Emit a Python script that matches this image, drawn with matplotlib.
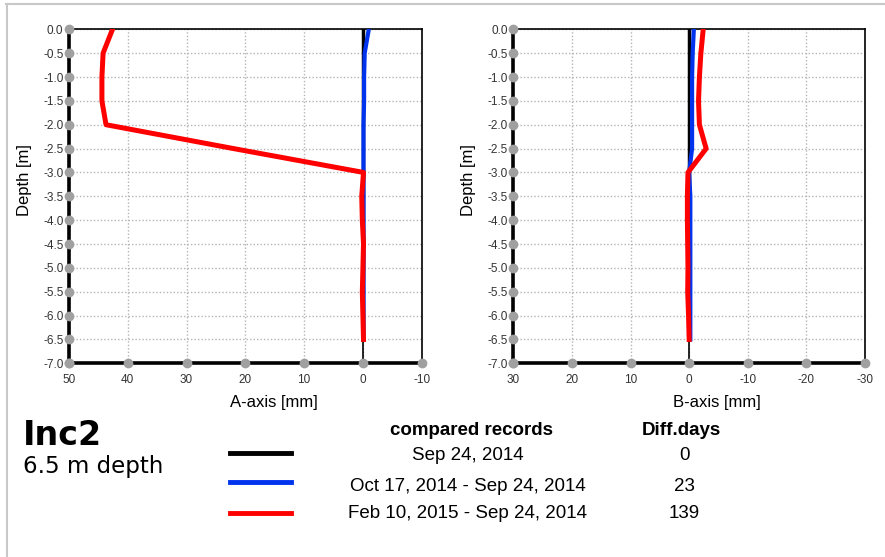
import matplotlib
matplotlib.use("Agg")
import matplotlib.pyplot as plt
from matplotlib.lines import Line2D

plt.rcParams['font.family'] = ['Liberation Sans', 'DejaVu Sans']
plt.rcParams['axes.unicode_minus'] = False

# Depth stations [m]
depth = [0.0, -0.5, -1.0, -1.5, -2.0, -2.5, -3.0, -3.5, -4.0, -4.5, -5.0, -5.5, -6.0, -6.5]

# A-axis displacement [mm]
a_base = [0.0] * 14
a_oct = [-1.0, -0.3, -0.2, -0.2, -0.1, -0.1, -0.1, -0.1, -0.1, -0.1, -0.1, -0.1, -0.1, -0.1]
a_feb = [42.6, 44.2, 44.4, 44.4, 43.7, 22.0, -0.1, 0.2, 0.1, -0.1, 0.0, 0.1, 0.0, -0.1]

# B-axis displacement [mm]
b_base = [0.0] * 14
b_oct = [-0.8, -0.6, -0.5, -0.5, -0.5, -0.5, 0.0, -0.2, -0.2, -0.2, -0.2, -0.2, -0.2, -0.2]
b_feb = [-2.4, -2.0, -1.75, -1.6, -1.75, -2.9, 0.2, 0.3, 0.3, 0.25, 0.2, 0.25, 0.1, 0.0]

y_ticks = [0.0, -0.5, -1.0, -1.5, -2.0, -2.5, -3.0, -3.5, -4.0, -4.5, -5.0, -5.5, -6.0, -6.5, -7.0]
a_ticks = [50, 40, 30, 20, 10, 0, -10]
b_ticks = [30, 20, 10, 0, -10, -20, -30]

records = ["Sep 24, 2014", "Oct 17, 2014 - Sep 24, 2014", "Feb 10, 2015 - Sep 24, 2014"]
diff_days = ["0", "23", "139"]
colors = ["#000000", "#0033ee", "#ff0000"]

fig = plt.figure(figsize=(8.85, 5.57), dpi=100)
W, H = 885, 557


def fx(px):
    return px / W


def fy(py):
    return 1 - py / H


# light frame on top and left edge
fig.add_artist(Line2D([fx(6), 1], [fy(4), fy(4)], color='#c8c8c8', lw=1.5))
fig.add_artist(Line2D([fx(6.5), fx(6.5)], [0, fy(4)], color='#c8c8c8', lw=1.5))


def setup_axes(rect, xticks, xlabel):
    ax = fig.add_axes(rect)
    ax.set_xlim(xticks[0], xticks[-1])
    ax.set_ylim(-7.0, 0.0)
    ax.set_xticks(xticks)
    ax.set_yticks(y_ticks)
    ax.set_yticklabels([f"{v:.1f}" if v != 0 else "0.0" for v in y_ticks])
    ax.grid(True, color='#b4b4b4', linestyle=(0, (1, 1.5)), linewidth=1.0)
    ax.tick_params(length=0, labelsize=8.5, colors='#333333')
    ax.tick_params(axis='x', pad=8)
    ax.tick_params(axis='y', pad=4)
    for s in ['left', 'bottom']:
        ax.spines[s].set_linewidth(2.6)
    for s in ['top', 'right']:
        ax.spines[s].set_linewidth(1.2)
    # gray dots at tick positions
    ax.plot([xticks[0]] * len(y_ticks), y_ticks, 'o', color='#a0a0a0', ms=6,
            clip_on=False, zorder=6)
    ax.plot(xticks, [-7.0] * len(xticks), 'o', color='#a0a0a0', ms=6,
            clip_on=False, zorder=6)
    ax.set_xlabel(xlabel, fontsize=12)
    ax.set_ylabel("Depth [m]", fontsize=12)
    ax.xaxis.set_label_coords(0.58, -0.095)
    ax.yaxis.set_label_coords(-0.105, 0.55)
    ax.axvline(0, color='black', lw=1.2, zorder=2)
    return ax


ax1 = setup_axes([fx(69), fy(363.3), 352.7 / W, 334 / H], a_ticks, "A-axis [mm]")
ax1.plot(a_base, depth, color=colors[0], lw=2.5, zorder=3)
ax1.plot(a_oct, depth, color=colors[1], lw=3.0, zorder=4, solid_capstyle='round')
ax1.plot(a_feb, depth, color=colors[2], lw=3.6, zorder=5)

ax2 = setup_axes([fx(513.3), fy(363.3), 351.7 / W, 334 / H], b_ticks, "B-axis [mm]")
ax2.plot(b_base, depth, color=colors[0], lw=2.5, zorder=3)
ax2.plot(b_oct, depth, color=colors[1], lw=3.0, zorder=4)
ax2.plot(b_feb, depth, color=colors[2], lw=3.6, zorder=5)

# caption block
fig.text(fx(23), fy(445), "Inc2", fontsize=24, fontweight='bold',
         family='DejaVu Sans', va='baseline', ha='left')
fig.text(fx(23), fy(473), "6.5 m depth", fontsize=16.5,
         family='DejaVu Sans', va='baseline', ha='left')

fig.text(fx(472), fy(435), "compared records", fontsize=13.5, fontweight='bold',
         ha='center', va='baseline')
fig.text(fx(681), fy(435), "Diff.days", fontsize=13.5, fontweight='bold',
         ha='center', va='baseline')

line_y = [453, 482, 513]
text_base = [460, 491, 518]
for rec, dd, c, ly, tb in zip(records, diff_days, colors, line_y, text_base):
    fig.add_artist(Line2D([fx(230), fx(291)], [fy(ly), fy(ly)], color=c, lw=3.5))
    fig.text(fx(468), fy(tb), rec, fontsize=13.5, ha='center', va='baseline')
    fig.text(fx(684), fy(tb), dd, fontsize=13.5, ha='center', va='baseline')

fig.savefig("out.png", dpi=100, facecolor='white')
